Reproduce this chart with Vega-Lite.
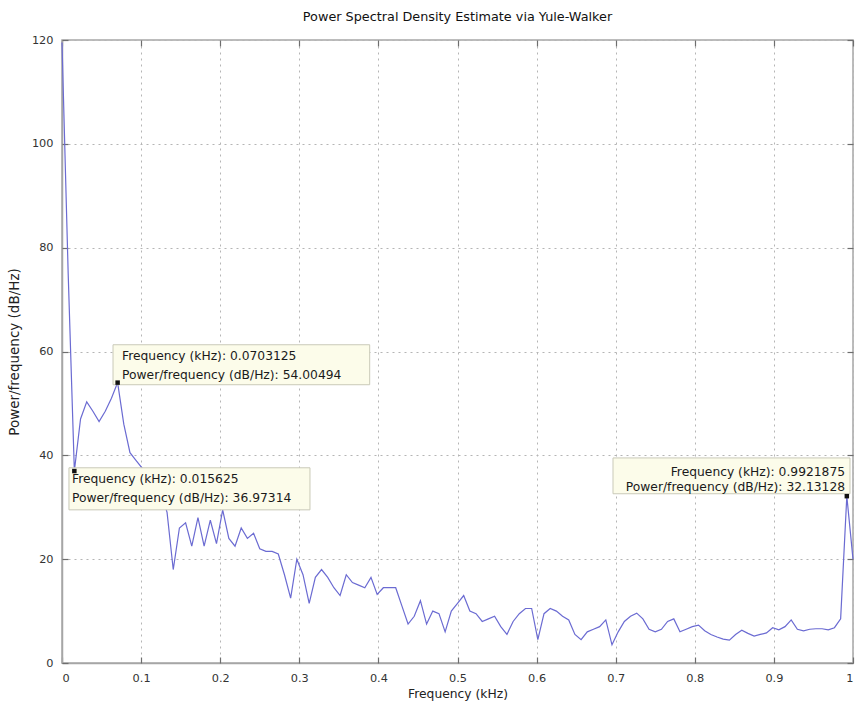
{
  "$schema": "https://vega.github.io/schema/vega-lite/v6.json",
  "width": 791,
  "height": 623,
  "autosize": {"type": "none"},
  "padding": {"left": 62, "top": 40, "right": 6, "bottom": 42},
  "background": "white",
  "title": {
    "text": "Power Spectral Density Estimate via Yule-Walker",
    "font": "DejaVu Sans",
    "fontSize": 12.8,
    "fontWeight": "normal",
    "color": "#111111",
    "anchor": "middle",
    "baseline": "bottom",
    "offset": -3
  },
  "datasets": {
    "psd": [
      {"f": 0, "p": 119.5}, {"f": 0.0078125, "p": 75}, {"f": 0.015625, "p": 36.97314}, {"f": 0.0234375, "p": 47},
      {"f": 0.03125, "p": 50.3}, {"f": 0.0390625, "p": 48.5}, {"f": 0.046875, "p": 46.5}, {"f": 0.0546875, "p": 48.5},
      {"f": 0.0625, "p": 51}, {"f": 0.0703125, "p": 54.00494}, {"f": 0.078125, "p": 46}, {"f": 0.0859375, "p": 40.5},
      {"f": 0.09375, "p": 39}, {"f": 0.1015625, "p": 37.5}, {"f": 0.109375, "p": 34}, {"f": 0.1171875, "p": 31},
      {"f": 0.125, "p": 33}, {"f": 0.1328125, "p": 29}, {"f": 0.140625, "p": 18}, {"f": 0.1484375, "p": 26},
      {"f": 0.15625, "p": 27}, {"f": 0.1640625, "p": 22.5}, {"f": 0.171875, "p": 28}, {"f": 0.1796875, "p": 22.5},
      {"f": 0.1875, "p": 27.5}, {"f": 0.1953125, "p": 23}, {"f": 0.203125, "p": 29.5}, {"f": 0.2109375, "p": 24},
      {"f": 0.21875, "p": 22.5}, {"f": 0.2265625, "p": 26}, {"f": 0.234375, "p": 24}, {"f": 0.2421875, "p": 25},
      {"f": 0.25, "p": 22}, {"f": 0.2578125, "p": 21.5}, {"f": 0.265625, "p": 21.5}, {"f": 0.2734375, "p": 21},
      {"f": 0.28125, "p": 17}, {"f": 0.2890625, "p": 12.5}, {"f": 0.296875, "p": 20}, {"f": 0.3046875, "p": 17},
      {"f": 0.3125, "p": 11.5}, {"f": 0.3203125, "p": 16.5}, {"f": 0.328125, "p": 18}, {"f": 0.3359375, "p": 16.5},
      {"f": 0.34375, "p": 14.5}, {"f": 0.3515625, "p": 13}, {"f": 0.359375, "p": 17}, {"f": 0.3671875, "p": 15.5},
      {"f": 0.375, "p": 15}, {"f": 0.3828125, "p": 14.5}, {"f": 0.390625, "p": 16.5}, {"f": 0.3984375, "p": 13.2},
      {"f": 0.40625, "p": 14.5}, {"f": 0.4140625, "p": 14.5}, {"f": 0.421875, "p": 14.5}, {"f": 0.4296875, "p": 11},
      {"f": 0.4375, "p": 7.5}, {"f": 0.4453125, "p": 9}, {"f": 0.453125, "p": 12}, {"f": 0.4609375, "p": 7.5},
      {"f": 0.46875, "p": 10}, {"f": 0.4765625, "p": 9.5}, {"f": 0.484375, "p": 6}, {"f": 0.4921875, "p": 10},
      {"f": 0.5, "p": 11.5}, {"f": 0.5078125, "p": 13}, {"f": 0.515625, "p": 10}, {"f": 0.5234375, "p": 9.5},
      {"f": 0.53125, "p": 8}, {"f": 0.5390625, "p": 8.5}, {"f": 0.546875, "p": 9}, {"f": 0.5546875, "p": 7},
      {"f": 0.5625, "p": 5.5}, {"f": 0.5703125, "p": 8}, {"f": 0.578125, "p": 9.5}, {"f": 0.5859375, "p": 10.5},
      {"f": 0.59375, "p": 10.5}, {"f": 0.6015625, "p": 4.5}, {"f": 0.609375, "p": 9.5}, {"f": 0.6171875, "p": 10.5},
      {"f": 0.625, "p": 10}, {"f": 0.6328125, "p": 9}, {"f": 0.640625, "p": 8.3}, {"f": 0.6484375, "p": 5.5},
      {"f": 0.65625, "p": 4.5}, {"f": 0.6640625, "p": 6}, {"f": 0.671875, "p": 6.5}, {"f": 0.6796875, "p": 7},
      {"f": 0.6875, "p": 8.3}, {"f": 0.6953125, "p": 3.5}, {"f": 0.703125, "p": 6}, {"f": 0.7109375, "p": 8},
      {"f": 0.71875, "p": 9}, {"f": 0.7265625, "p": 9.6}, {"f": 0.734375, "p": 8.5}, {"f": 0.7421875, "p": 6.5},
      {"f": 0.75, "p": 6}, {"f": 0.7578125, "p": 6.5}, {"f": 0.765625, "p": 8}, {"f": 0.7734375, "p": 8.5},
      {"f": 0.78125, "p": 6}, {"f": 0.7890625, "p": 6.5}, {"f": 0.796875, "p": 7}, {"f": 0.8046875, "p": 7.3},
      {"f": 0.8125, "p": 6.2}, {"f": 0.8203125, "p": 5.5}, {"f": 0.828125, "p": 5}, {"f": 0.8359375, "p": 4.6},
      {"f": 0.84375, "p": 4.4}, {"f": 0.8515625, "p": 5.5}, {"f": 0.859375, "p": 6.3}, {"f": 0.8671875, "p": 5.7},
      {"f": 0.875, "p": 5.2}, {"f": 0.8828125, "p": 5.5}, {"f": 0.890625, "p": 5.8}, {"f": 0.8984375, "p": 6.8},
      {"f": 0.90625, "p": 6.4}, {"f": 0.9140625, "p": 7}, {"f": 0.921875, "p": 8.3}, {"f": 0.9296875, "p": 6.5},
      {"f": 0.9375, "p": 6.2}, {"f": 0.9453125, "p": 6.5}, {"f": 0.953125, "p": 6.6}, {"f": 0.9609375, "p": 6.6},
      {"f": 0.96875, "p": 6.4}, {"f": 0.9765625, "p": 6.8}, {"f": 0.984375, "p": 8.5}, {"f": 0.9921875, "p": 32.13128},
      {"f": 1, "p": 20}
    ],
    "boxes": [
      {"tip": "a", "x0": 0.0645, "x1": 0.389, "y0": 53.6, "y1": 61.3},
      {"tip": "b", "x0": 0.0088, "x1": 0.3135, "y0": 29.5, "y1": 37.6},
      {"tip": "c", "x0": 0.6966, "x1": 0.9962, "y0": 32.6, "y1": 39.5}
    ],
    "labels": [
      {"tip": "a", "x": 0.0759, "y": 59.2, "label": "Frequency (kHz): 0.0703125"},
      {"tip": "a", "x": 0.0759, "y": 55.5, "label": "Power/frequency (dB/Hz): 54.00494"},
      {"tip": "b", "x": 0.0126, "y": 35.5, "label": "Frequency (kHz): 0.015625"},
      {"tip": "b", "x": 0.0126, "y": 31.8, "label": "Power/frequency (dB/Hz): 36.97314"},
      {"tip": "c", "x": 0.990, "y": 36.8, "label": "Frequency (kHz): 0.9921875"},
      {"tip": "c", "x": 0.990, "y": 33.9, "label": "Power/frequency (dB/Hz): 32.13128"}
    ],
    "tips": [
      {"f": 0.0703125, "p": 54.00494},
      {"f": 0.015625, "p": 36.97314},
      {"f": 0.9921875, "p": 32.13128}
    ]
  },
  "config": {
    "view": {"stroke": "#a6a6a6", "strokeWidth": 1.5},
    "axis": {
      "labelFont": "DejaVu Sans",
      "labelFontSize": 11.3,
      "labelColor": "#333333",
      "titleFont": "DejaVu Sans",
      "titleFontSize": 12.3,
      "titleFontWeight": "normal",
      "titleColor": "#222222",
      "domainColor": "#a6a6a6",
      "domainWidth": 1.5,
      "tickColor": "#6e6e6e",
      "tickWidth": 1.2,
      "tickSize": 6,
      "labelPadding": 9,
      "gridColor": "#b5b5b5",
      "gridDash": [2, 4],
      "gridWidth": 1
    }
  },
  "resolve": {"axis": {"x": "independent", "y": "independent"}},
  "layer": [
    {
      "data": {"name": "psd"},
      "mark": {"type": "line", "color": "#6b6bd2", "strokeWidth": 1.2},
      "encoding": {
        "x": {
          "field": "f", "type": "quantitative",
          "scale": {"domain": [0, 1], "nice": false, "zero": false},
          "axis": {"title": "Frequency (kHz)", "values": [0, 0.1, 0.2, 0.3, 0.4, 0.5, 0.6, 0.7, 0.8, 0.9, 1], "format": "~g", "grid": true, "ticks": false, "titlePadding": 4}
        },
        "y": {
          "field": "p", "type": "quantitative",
          "scale": {"domain": [0, 120], "nice": false},
          "axis": {"title": "Power/frequency (dB/Hz)", "titleFontSize": 13.5, "values": [0, 20, 40, 60, 80, 100, 120], "format": "d", "grid": true, "ticks": false, "titlePadding": 10}
        }
      }
    },
    {
      "data": {"name": "boxes"},
      "mark": {"type": "rect", "fill": "#fcfcea", "stroke": "#c9c9b8", "strokeWidth": 1},
      "encoding": {
        "x": {"field": "x0", "type": "quantitative", "axis": {"orient": "top", "offset": -6, "labels": false, "title": null, "grid": false, "domain": false, "values": [0, 0.1, 0.2, 0.3, 0.4, 0.5, 0.6, 0.7, 0.8, 0.9, 1]}},
        "x2": {"field": "x1"},
        "y": {"field": "y0", "type": "quantitative", "axis": {"orient": "right", "offset": -6, "labels": false, "title": null, "grid": false, "domain": false, "values": [0, 20, 40, 60, 80, 100, 120]}},
        "y2": {"field": "y1"}
      }
    },
    {
      "data": {"name": "labels"},
      "transform": [{"filter": "datum.tip != 'c'"}],
      "mark": {"type": "text", "align": "left", "baseline": "middle", "font": "DejaVu Sans", "fontSize": 12.3, "color": "#1a1a1a"},
      "encoding": {
        "x": {"field": "x", "type": "quantitative", "axis": {"orient": "bottom", "offset": -6, "labels": false, "title": null, "grid": false, "domain": false, "values": [0, 0.1, 0.2, 0.3, 0.4, 0.5, 0.6, 0.7, 0.8, 0.9, 1]}},
        "y": {"field": "y", "type": "quantitative", "axis": {"orient": "left", "offset": -6, "labels": false, "title": null, "grid": false, "domain": false, "values": [0, 20, 40, 60, 80, 100, 120]}},
        "text": {"field": "label"}
      }
    },
    {
      "data": {"name": "labels"},
      "transform": [{"filter": "datum.tip == 'c'"}],
      "mark": {"type": "text", "align": "right", "baseline": "middle", "font": "DejaVu Sans", "fontSize": 12.3, "color": "#1a1a1a"},
      "encoding": {
        "x": {"field": "x", "type": "quantitative", "axis": null},
        "y": {"field": "y", "type": "quantitative", "axis": null},
        "text": {"field": "label"}
      }
    },
    {
      "data": {"name": "tips"},
      "mark": {"type": "square", "filled": true, "color": "#111111", "size": 20, "opacity": 1},
      "encoding": {
        "x": {"field": "f", "type": "quantitative", "axis": null},
        "y": {"field": "p", "type": "quantitative", "axis": null}
      }
    }
  ]
}
